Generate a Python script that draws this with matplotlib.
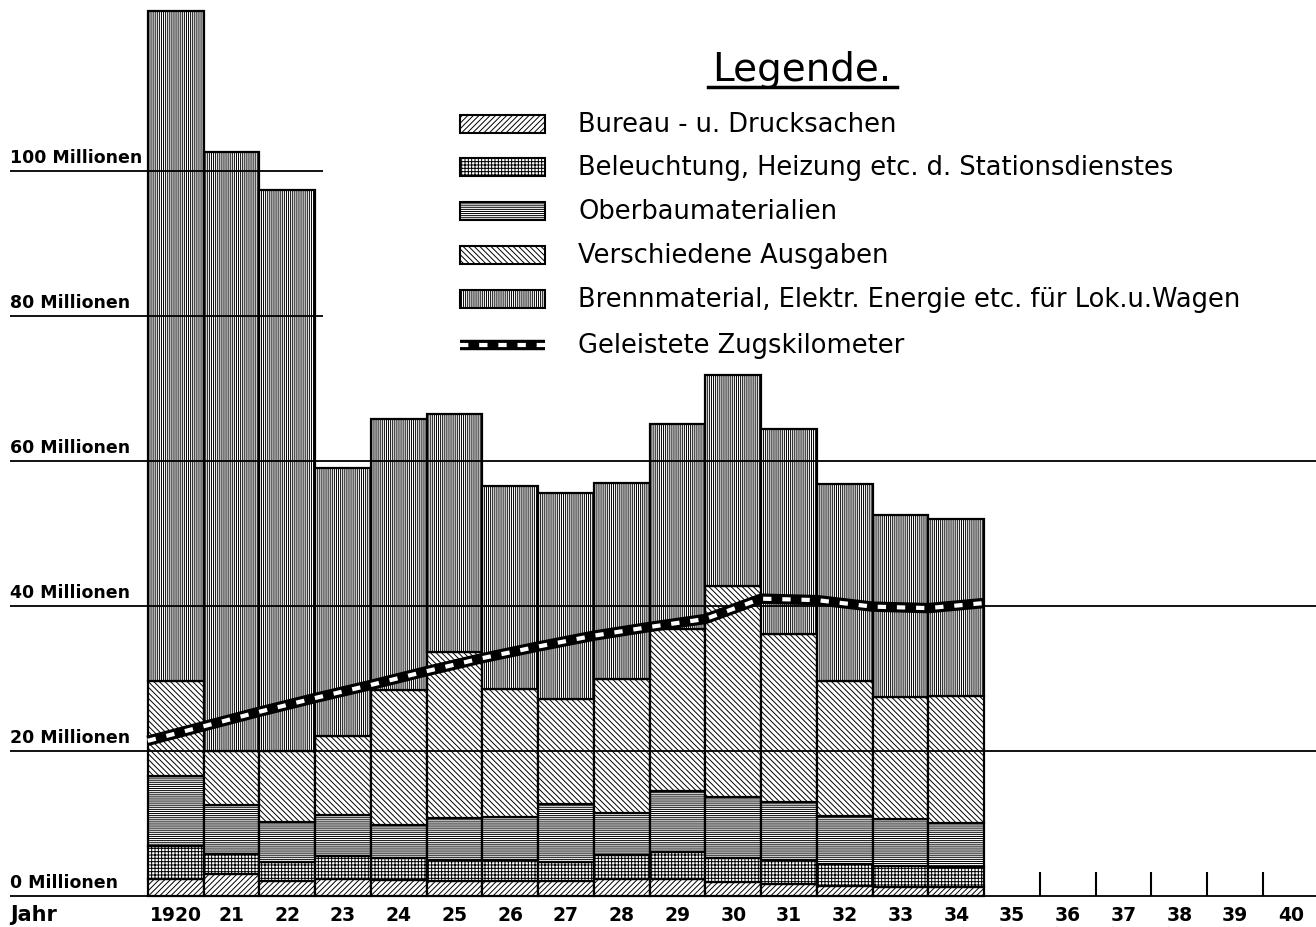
import numpy as np
import matplotlib
matplotlib.use("Agg")
import matplotlib.pyplot as plt
from matplotlib.patches import Rectangle
from matplotlib.lines import Line2D

plt.rcParams['font.family'] = ['DejaVu Sans']
plt.rcParams['hatch.linewidth'] = 0.7

# Ausgaben in Millionen
jahre = np.arange(1920, 1935)
bureau = [2.4, 3.0, 2.1, 2.4, 2.2, 2.0, 2.0, 2.1, 2.4, 2.4, 1.9, 1.7, 1.4, 1.3, 1.3]
beleuchtung = [4.5, 2.8, 2.6, 3.1, 3.0, 2.9, 2.9, 2.6, 3.3, 3.6, 3.3, 3.2, 3.0, 2.8, 2.7]
oberbau = [9.7, 6.8, 5.5, 5.6, 4.6, 5.9, 6.0, 8.0, 5.7, 8.5, 8.5, 8.1, 6.6, 6.5, 6.0]
verschiedene = [13.1, 7.4, 9.8, 10.9, 18.6, 22.9, 17.7, 14.4, 18.5, 22.3, 29.1, 23.1, 18.6, 16.8, 17.6]
brennmaterial = [92.4, 82.6, 77.4, 37.0, 37.4, 32.8, 28.0, 28.5, 27.1, 28.3, 29.1, 28.3, 27.2, 25.2, 24.4]

zug_grenzen = np.arange(1919.5, 1935.0, 1.0)
zugskilometer = [21.4, 23.4, 25.4, 27.3, 29.1, 31.0, 32.8, 34.4, 35.9, 37.1,
                 38.2, 41.0, 40.8, 39.9, 39.7, 40.4]

achse_jahre = np.arange(1920, 1941)
jahr_labels = ['1920'] + [str(j % 100) for j in achse_jahre[1:]]
raster = [0, 20, 40, 60, 80, 100]

serien = [bureau, beleuchtung, oberbau, verschiedene, brennmaterial]
hatches = ['//////', '+++++', '--------', '\\\\\\\\\\\\', '||||||||']
namen = ['Bureau - u. Drucksachen',
         'Beleuchtung, Heizung etc. d. Stationsdienstes',
         'Oberbaumaterialien',
         'Verschiedene Ausgaben',
         'Brennmaterial, Elektr. Energie etc. für Lok.u.Wagen',
         'Geleistete Zugskilometer']

fig = plt.figure(figsize=(13.16, 9.28), dpi=100)
ax = fig.add_axes([0, 0, 1, 1])
ax.set_xlim(1916.85, 1940.45)
ax.set_ylim(-4.28, 123.7)
ax.axis('off')

# gestapelte Balken
unten = np.zeros(len(jahre))
for werte, h in zip(serien, hatches):
    ax.bar(jahre, werte, width=1.0, bottom=unten, facecolor='white',
           edgecolor='black', linewidth=1.6, hatch=h, zorder=2)
    unten += np.array(werte)

# Rasterlinien mit Beschriftung
x_links = 1917.03
for r in raster:
    x_rechts = 1922.64 if r >= 80 else 1940.45
    ax.hlines(r, x_links, x_rechts, color='black', linewidth=1.3, zorder=3)
    ax.text(x_links, r + 0.7, f'{r} Millionen', ha='left', va='bottom',
            fontsize=12.5, fontweight='bold', zorder=5)

# Zugskilometer-Linie
ax.plot(zug_grenzen, zugskilometer, color='black', linewidth=7.5,
        solid_capstyle='butt', zorder=4)
ax.plot(zug_grenzen, zugskilometer, color='white', linewidth=3.0,
        dashes=(2.0, 2.6), zorder=5)

# Jahresachse
for j, lab in zip(achse_jahre, jahr_labels):
    ax.text(j, -2.5, lab, ha='center', va='center', fontsize=13.5,
            fontweight='bold')
ax.text(x_links, -2.5, 'Jahr', ha='left', va='center', fontsize=15,
        fontweight='bold')
ax.vlines(np.arange(1935.5, 1941.0, 1.0), 0, 3.3, color='black',
          linewidth=1.5, zorder=3)

# Legende
fig.text(802 / 1316, 1 - 70 / 928, 'Legende.', ha='center', va='center',
         fontsize=28)
fig.add_artist(Line2D([708 / 1316, 897 / 1316], [1 - 88 / 928, 1 - 88 / 928],
                      color='black', linewidth=2.5, transform=fig.transFigure))
zeilen = [125, 168, 212, 256, 300, 346]
for i, (py, name) in enumerate(zip(zeilen, namen)):
    fy = 1 - py / 928
    if i < 5:
        fig.add_artist(Rectangle((460 / 1316, fy - 9 / 928), 85 / 1316, 18 / 928,
                                 facecolor='white', edgecolor='black',
                                 linewidth=1.5, hatch=hatches[i],
                                 transform=fig.transFigure))
    else:
        fig.add_artist(Line2D([460 / 1316, 545 / 1316], [fy, fy], color='black',
                              linewidth=7.5, solid_capstyle='butt',
                              transform=fig.transFigure))
        fig.add_artist(Line2D([460 / 1316, 545 / 1316], [fy, fy], color='white',
                              linewidth=3.0, dashes=(2.0, 2.6),
                              transform=fig.transFigure))
    fig.text(578 / 1316, fy, name, ha='left', va='center', fontsize=18.5)

fig.savefig('out.png', dpi=100, facecolor='white')
